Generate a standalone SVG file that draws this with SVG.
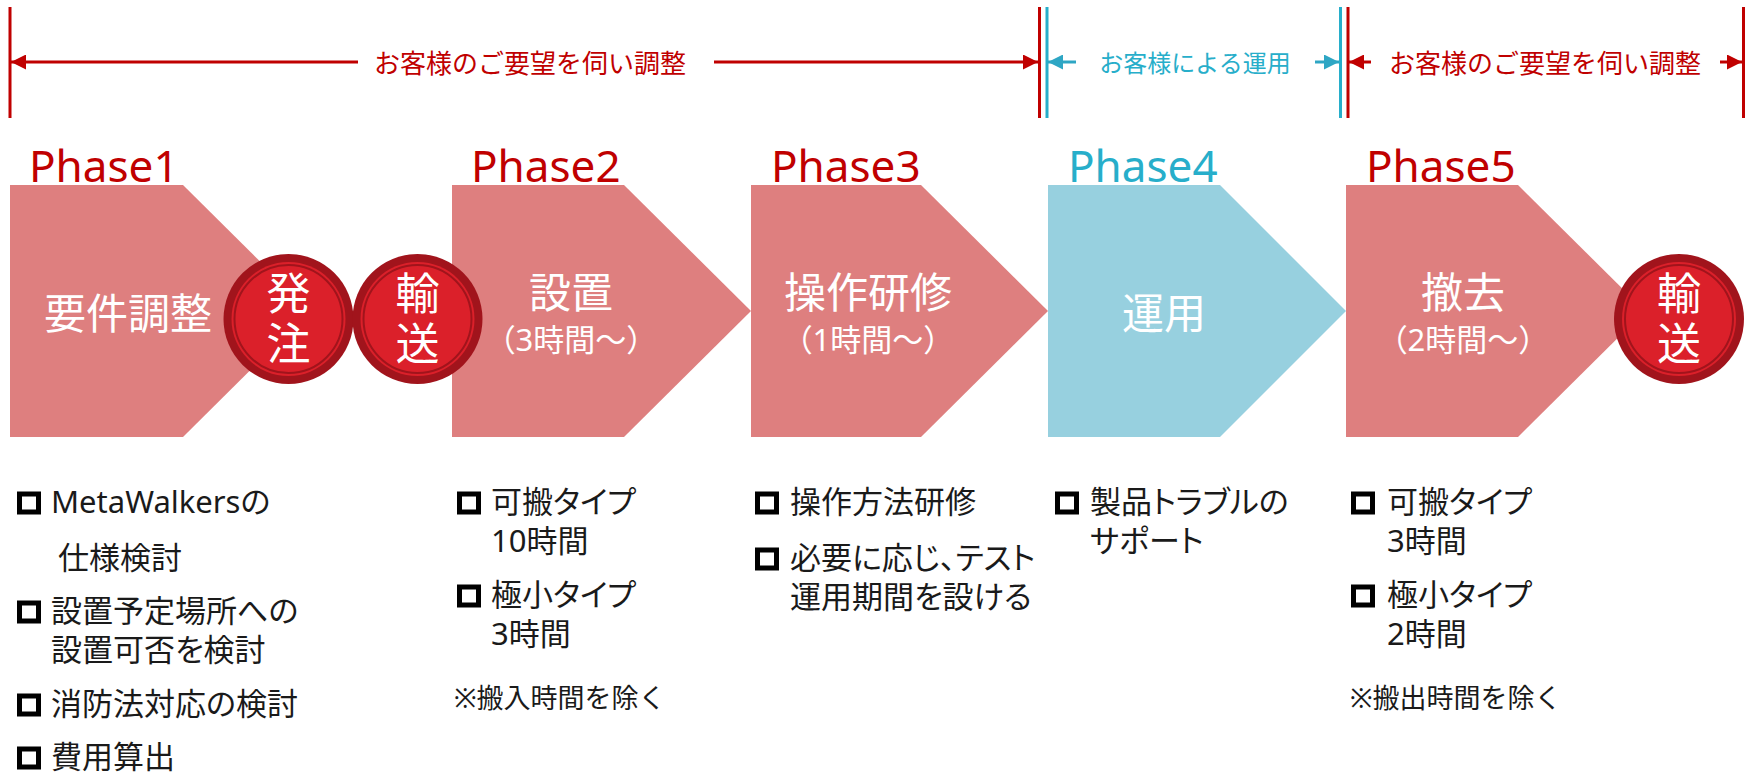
<svg xmlns="http://www.w3.org/2000/svg" width="1754" height="774" viewBox="0 0 1754 774">
<style>
text{font-family:"Noto Sans","Noto Sans CJK JP",sans-serif;font-feature-settings:"palt"}
.r{fill:#c00000}.b{fill:#27aeca}
.ph{font-size:44px;font-feature-settings:normal}
.sp{font-size:26px;text-anchor:middle;font-feature-settings:normal}
.w{fill:#fff;text-anchor:middle;font-feature-settings:normal}
.t{font-size:42px}.s{font-size:31px}
.c{font-size:44px;fill:#fff;text-anchor:middle;font-feature-settings:normal}
.k{fill:#1a1a1a;font-size:31px}
.n{fill:#1a1a1a;font-size:27px;font-feature-settings:normal}
.vr{stroke:#c00000;stroke-width:3;fill:none}.vb{stroke:#27aeca;stroke-width:3;fill:none}
.pr{fill:#de7f7f}.pb{fill:#97d0df}
.o1{fill:#a1141c}.o2{fill:#db202a;stroke:#a1141c;stroke-width:2}
.bx{fill:#fff;stroke:#000;stroke-width:5}
</style>
<defs>
<marker id="ar" viewBox="0 0 10 10" refX="10" refY="5" markerWidth="5" markerHeight="5" orient="auto-start-reverse"><path d="M0 0L10 5L0 10Z" fill="#c00000"/></marker>
<marker id="ab" viewBox="0 0 10 10" refX="10" refY="5" markerWidth="5" markerHeight="5" orient="auto-start-reverse"><path d="M0 0L10 5L0 10Z" fill="#2ea6c4"/></marker>
<g id="cir"><circle r="65" class="o1"/><circle r="57" fill="#db202a"/><circle r="54" class="o2"/></g>
<g id="bl"><rect x="-9.500" y="-9" width="19" height="18" class="bx"/></g>
</defs>
<g id="connectors">
<path class="vr" d="M10 7V118M1039.500 7V118M1348 7V118M1743.500 7V118"/>
<path class="vb" d="M1047 7V118M1340.500 7V118"/>
<g fill="none" stroke-width="3">
<path d="M358 62H11" stroke="#c00000" marker-end="url(#ar)"/>
<path d="M714 62H1038" stroke="#c00000" marker-end="url(#ar)"/>
<path d="M1076 62H1048" stroke="#2ea6c4" marker-end="url(#ab)"/>
<path d="M1315 62H1339" stroke="#2ea6c4" marker-end="url(#ab)"/>
<path d="M1371 62H1349" stroke="#c00000" marker-end="url(#ar)"/>
<path d="M1720 62H1742" stroke="#c00000" marker-end="url(#ar)"/>
</g>
</g>
<g id="span1"><text class="sp r" x="530" y="73">お客様のご要望を伺い調整</text></g>
<g id="span2"><text class="sp b" x="1195" y="72" style="font-size:24px">お客様による運用</text></g>
<g id="span3"><text class="sp r" x="1545" y="73">お客様のご要望を伺い調整</text></g>
<g id="phase1">
<text class="ph r" x="29" y="182">Phase1</text>
<path class="pr" d="M10 185H183L310 311L183 437H10Z"/>
<text class="w t" x="128" y="329">要件調整</text>
</g>
<g id="order"><use href="#cir" x="288.500" y="319"/><text class="c" x="288.500" y="310">発</text><text class="c" x="288.500" y="360">注</text></g>
<g id="phase2">
<text class="ph r" x="471" y="182">Phase2</text>
<path class="pr" d="M452 185H624L751 311L624 437H452Z"/>
<text class="w t" x="571" y="308">設置</text>
<text class="w s" x="571" y="351">（3時間～）</text>
</g>
<g id="ship1"><use href="#cir" x="417.500" y="319"/><text class="c" x="417.500" y="310">輸</text><text class="c" x="417.500" y="360">送</text></g>
<g id="phase3">
<text class="ph r" x="771" y="182">Phase3</text>
<path class="pr" d="M751 185H921L1048 311L921 437H751Z"/>
<text class="w t" x="868" y="308">操作研修</text>
<text class="w s" x="868" y="351">（1時間～）</text>
</g>
<g id="phase4">
<text class="ph b" x="1068" y="182">Phase4</text>
<path class="pb" d="M1048 185H1220L1346 311L1220 437H1048Z"/>
<text class="w t" x="1164" y="329">運用</text>
</g>
<g id="phase5">
<text class="ph r" x="1366" y="182">Phase5</text>
<path class="pr" d="M1346 185H1518L1645 311L1518 437H1346Z"/>
<text class="w t" x="1463" y="308">撤去</text>
<text class="w s" x="1463" y="351">（2時間～）</text>
</g>
<g id="ship2"><use href="#cir" x="1679" y="319"/><text class="c" x="1679" y="310">輸</text><text class="c" x="1679" y="360">送</text></g>
<g id="list1">
<use href="#bl" x="29" y="503"/><text class="k" x="51" y="513">MetaWalkersの</text>
<text class="k" x="58" y="569">仕様検討</text>
<use href="#bl" x="29" y="612"/><text class="k" x="51" y="622">設置予定場所への</text>
<text class="k" x="51" y="661">設置可否を検討</text>
<use href="#bl" x="29" y="705"/><text class="k" x="51" y="715">消防法対応の検討</text>
<use href="#bl" x="29" y="758"/><text class="k" x="51" y="768">費用算出</text>
</g>
<g id="list2">
<use href="#bl" x="469" y="503"/><text class="k" x="491" y="513">可搬タイプ</text>
<text class="k" x="491" y="552">10時間</text>
<use href="#bl" x="469" y="596"/><text class="k" x="491" y="606">極小タイプ</text>
<text class="k" x="491" y="645">3時間</text>
<text class="n" x="454" y="708">※搬入時間を除く</text>
</g>
<g id="list3">
<use href="#bl" x="767" y="503"/><text class="k" x="790" y="513">操作方法研修</text>
<use href="#bl" x="767" y="559"/><text class="k" x="790" y="569">必要に応じ、テスト</text>
<text class="k" x="790" y="608">運用期間を設ける</text>
</g>
<g id="list4">
<use href="#bl" x="1067" y="503"/><text class="k" x="1090" y="513">製品トラブルの</text>
<text class="k" x="1090" y="552">サポート</text>
</g>
<g id="list5">
<use href="#bl" x="1363" y="503"/><text class="k" x="1387" y="513">可搬タイプ</text>
<text class="k" x="1387" y="552">3時間</text>
<use href="#bl" x="1363" y="596"/><text class="k" x="1387" y="606">極小タイプ</text>
<text class="k" x="1387" y="645">2時間</text>
<text class="n" x="1350" y="708">※搬出時間を除く</text>
</g>
</svg>
